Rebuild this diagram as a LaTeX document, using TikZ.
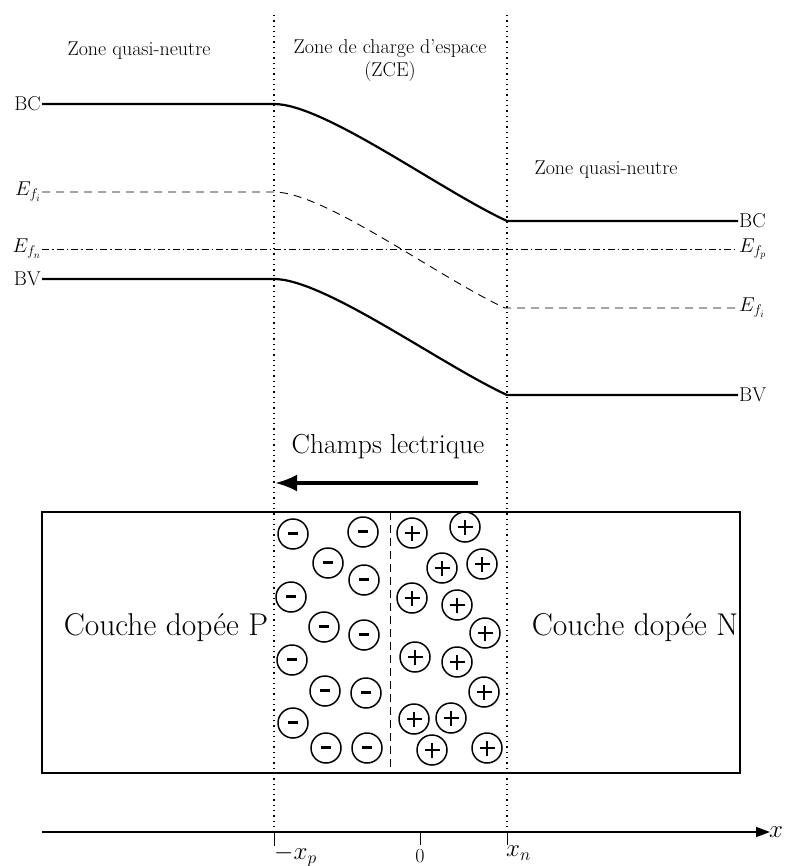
\RequirePackage{fix-cm}
\documentclass[tikz,border=0pt]{standalone}
\usepackage{fontspec}
\usetikzlibrary{arrows.meta}
\tikzset{
  lbl/.style={font=\fontsize{20}{23}\selectfont, inner sep=1pt},
  axlbl/.style={font=\fontsize{25}{28}\selectfont, inner sep=0pt},
  biglbl/.style={font=\fontsize{27.5}{30}\selectfont, inner sep=1pt},
  hugelbl/.style={font=\fontsize{31.5}{35}\selectfont, inner sep=1pt},
  band/.style={line width=2.2pt},
  fermi/.style={line width=0.9pt, dash pattern=on 8pt off 6pt},
  quasi/.style={line width=0.9pt, dash pattern=on 7pt off 3pt on 1.5pt off 3pt},
  zline/.style={line width=1.3pt, dash pattern=on 1.3pt off 4pt},
  ion/.style={circle, draw, line width=1.5pt, minimum size=30pt, inner sep=0pt},
  negion/.style={ion, path picture={\draw[line width=3pt] (-5pt,0.5pt) -- (5pt,0.5pt);}},
  posion/.style={ion, path picture={\draw[line width=1.7pt] (-7.5pt,0) -- (7.5pt,0) (0,-7.5pt) -- (0,7.5pt);}},
}
\begin{document}
\begin{tikzpicture}[x=1pt,y=-1pt]
\useasboundingbox (0,0) rectangle (784,866);
% zone boundaries
\coordinate (zl0) at (274,15);
\coordinate (zl1) at (274,832);
\coordinate (zr0) at (507,15);
\coordinate (zr1) at (507,832);
\draw[zline] (zl0) -- (zl1);
\draw[zline] (zr0) -- (zr1);
% zone labels
\node[lbl] (zqn1) at (139,51) {Zone quasi-neutre};
\node[lbl, align=center] (zce) at (390,61) {Zone de charge d’espace\\(ZCE)};
\node[lbl] (zqn2) at (606,170) {Zone quasi-neutre};
% BC
\coordinate (bc0) at (42,104);
\coordinate (bc1) at (274,104);
\coordinate (bc2) at (507,221);
\coordinate (bc3) at (738,221);
\draw[band] (bc0) -- (bc1) .. controls +(50,0) and +(-67,-31) .. (bc2) -- (bc3);
\node[lbl, anchor=east] (lbcl) at (bc0) {BC};
\node[lbl, anchor=west] (lbcr) at (bc3) {BC};
% Efi
\coordinate (fi0) at (42,192);
\coordinate (fi1) at (274,192);
\coordinate (fi2) at (505,308);
\coordinate (fi3) at (738,308);
\draw[fermi] (fi0) -- (fi1) .. controls +(50,0) and +(-67,-31) .. (fi2) -- (fi3);
\node[lbl, anchor=east] (lfil) at (fi0) {$E_{f_i}$};
\node[lbl, anchor=west] (lfir) at (fi3) {$E_{f_i}$};
% Ef quasi
\coordinate (fn0) at (42,249);
\coordinate (fn1) at (738,249);
\draw[quasi] (fn0) -- (fn1);
\node[lbl, anchor=east] (lfn) at (fn0) {$E_{f_n}$};
\node[lbl, anchor=west] (lfp) at (fn1) {$E_{f_p}$};
% BV
\coordinate (bv0) at (42,279);
\coordinate (bv1) at (274,279);
\coordinate (bv2) at (507,395);
\coordinate (bv3) at (738,395);
\draw[band] (bv0) -- (bv1) .. controls +(50,0) and +(-67,-31) .. (bv2) -- (bv3);
\node[lbl, anchor=east] (lbvl) at (bv0) {BV};
\node[lbl, anchor=west] (lbvr) at (bv3) {BV};
% electric field
\node[biglbl] (champ) at (388,447) {Champs lectrique};
\coordinate (ea) at (478,483);
\coordinate (eb) at (275,483);
\draw[line width=3.5pt, -{Latex[length=22pt,width=17pt]}] (ea) -- (eb);
% device
\coordinate (r0) at (42,512);
\coordinate (r1) at (740,773);
\draw[line width=1.8pt] (r0) rectangle (r1);
\coordinate (m0) at (390,512);
\coordinate (m1) at (390,773);
\draw[line width=0.9pt, dash pattern=on 8pt off 5pt] (m0) -- (m1);
\node[hugelbl] (cp) at (166,628) {Couche dopée P};
\node[hugelbl] (cn) at (635,628) {Couche dopée N};
% ions
\foreach \x/\y [count=\i] in {293/534,363/532,328/563,364/580,291/597,324/627,364/635,292/660,325/691,366/693,293/723,326/748,367/748}
  \node[negion] (neg\i) at (\x,\y) {};
\foreach \x/\y [count=\i] in {412/533,465/527,442/568,482/564,412/598,457/605,485/633,415/657,457/662,484/692,414/719,451/718,432/750,487/748}
  \node[posion] (pos\i) at (\x,\y) {};
% axis
\coordinate (ax0) at (42,832);
\coordinate (ax1) at (770,832);
\draw[line width=1.4pt, -{Triangle[length=14pt,width=10pt]}] (ax0) -- (ax1);
\node[axlbl, anchor=south west] (lx) at (769,838) {$x$};
\coordinate (t1a) at (274,832); \coordinate (t1b) at (274,846);
\coordinate (t2a) at (420,832); \coordinate (t2b) at (420,845);
\coordinate (t3a) at (507,832); \coordinate (t3b) at (507,845);
\draw[line width=0.8pt] (t1a) -- (t1b);
\draw[line width=0.8pt] (t2a) -- (t2b);
\draw[line width=0.8pt] (t3a) -- (t3b);
\node[axlbl, anchor=north west] (lxp) at (274,845) {$-x_p$};
\node[lbl, anchor=north, inner sep=0pt] (l0) at (420,849) {$0$};
\node[axlbl, anchor=north west] (lxn) at (506,846) {$x_n$};
\end{tikzpicture}
\end{document}
